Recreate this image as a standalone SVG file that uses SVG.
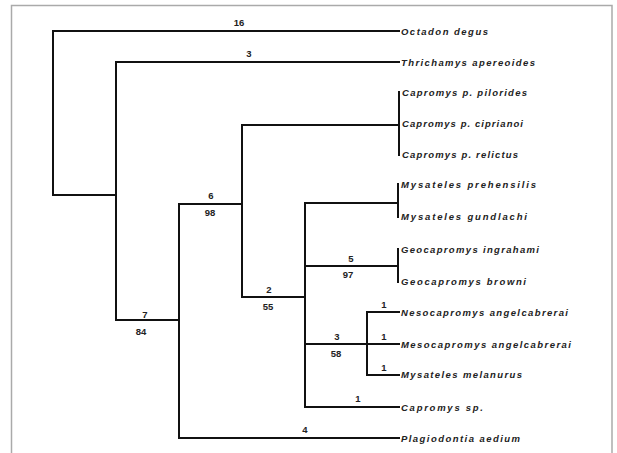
<svg xmlns="http://www.w3.org/2000/svg" width="617" height="453" viewBox="0 0 617 453">
<style>
.br{fill:none;stroke:#111;stroke-width:2;stroke-linecap:square}
.tx{font-family:"Liberation Sans",Arial,sans-serif;font-size:9.5px;font-style:italic;font-weight:bold;fill:#222}
.lb{font-family:"Liberation Sans",Arial,sans-serif;font-size:9.5px;font-weight:bold;fill:#222;text-anchor:middle}
</style>
<rect x="0" y="0" width="617" height="453" fill="#fff"/>
<path d="M11.5 460 V5.5 H612 V460" fill="none" stroke="#aaa" stroke-width="1.5"/>
<g id="connectors" class="br">
<path d="M399 31 H53 V195 H116"/>
<path d="M399 62 H116 V320 H179"/>
<path d="M179 204 V438 H399"/>
<path d="M179 204 H242"/>
<path d="M242 125 V297 H305"/>
<path d="M242 125 H399"/>
<path d="M399 92 V155"/>
<path d="M305 203 V407 H399"/>
<path d="M305 203 H398"/>
<path d="M398 184 V217"/>
<path d="M305 266 H398"/>
<path d="M398 249 V282"/>
<path d="M305 344 H399"/>
<path d="M367 312 V375"/>
<path d="M367 312 H399"/>
<path d="M367 375 H399"/>
</g>
<g id="labels">
<text class="lb" x="239" y="26">16</text>
<text class="lb" x="249" y="57">3</text>
<text class="lb" x="211" y="199">6</text>
<text class="lb" x="210" y="216">98</text>
<text class="lb" x="145" y="318">7</text>
<text class="lb" x="141" y="335">84</text>
<text class="lb" x="269" y="293">2</text>
<text class="lb" x="268" y="310">55</text>
<text class="lb" x="351" y="262">5</text>
<text class="lb" x="348" y="278">97</text>
<text class="lb" x="337" y="340">3</text>
<text class="lb" x="336" y="357">58</text>
<text class="lb" x="384" y="308">1</text>
<text class="lb" x="384" y="340">1</text>
<text class="lb" x="384" y="371">1</text>
<text class="lb" x="358" y="402">1</text>
<text class="lb" x="305" y="433">4</text>
</g>
<g id="n-octodon"><text class="tx" x="401" y="34.5" textLength="87" lengthAdjust="spacing">Octadon degus</text></g>
<g id="n-thrichamys"><text class="tx" x="401" y="65.5" textLength="134" lengthAdjust="spacing">Thrichamys apereoides</text></g>
<g id="n-cp-pilorides"><text class="tx" x="402" y="95.5" textLength="125" lengthAdjust="spacing">Capromys p. pilorides</text></g>
<g id="n-cp-ciprianoi"><text class="tx" x="402" y="126.5" textLength="121" lengthAdjust="spacing">Capromys p. ciprianoi</text></g>
<g id="n-cp-relictus"><text class="tx" x="402" y="158" textLength="116" lengthAdjust="spacing">Capromys p. relictus</text></g>
<g id="n-mys-prehensilis"><text class="tx" x="401" y="187.5" textLength="135" lengthAdjust="spacing">Mysateles prehensilis</text></g>
<g id="n-mys-gundlachi"><text class="tx" x="401" y="219.5" textLength="126" lengthAdjust="spacing">Mysateles gundlachi</text></g>
<g id="n-geo-ingrahami"><text class="tx" x="401" y="252.5" textLength="138" lengthAdjust="spacing">Geocapromys ingrahami</text></g>
<g id="n-geo-browni"><text class="tx" x="401" y="284.5" textLength="125" lengthAdjust="spacing">Geocapromys browni</text></g>
<g id="n-nesocapromys"><text class="tx" x="401" y="315.5" textLength="167" lengthAdjust="spacing">Nesocapromys angelcabrerai</text></g>
<g id="n-mesocapromys"><text class="tx" x="401" y="347.5" textLength="170" lengthAdjust="spacing">Mesocapromys angelcabrerai</text></g>
<g id="n-mys-melanurus"><text class="tx" x="401" y="378" textLength="121" lengthAdjust="spacing">Mysateles melanurus</text></g>
<g id="n-capromys-sp"><text class="tx" x="401" y="410.5" textLength="82" lengthAdjust="spacing">Capromys sp.</text></g>
<g id="n-plagiodontia"><text class="tx" x="401" y="441.5" textLength="119" lengthAdjust="spacing">Plagiodontia aedium</text></g>
</svg>
